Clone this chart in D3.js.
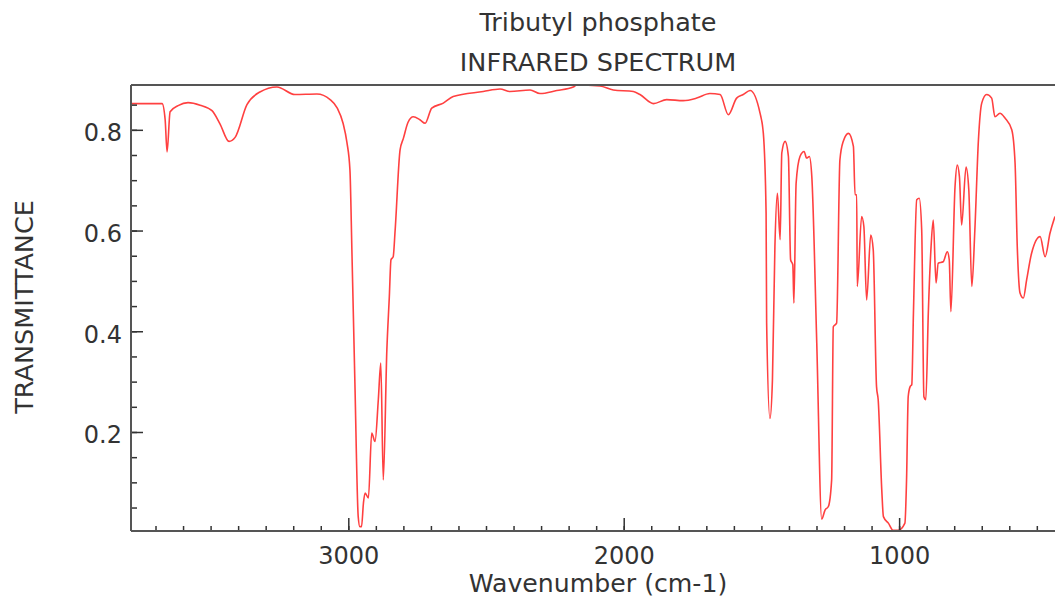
<!DOCTYPE html>
<html lang="en">
<head>
    <meta charset="UTF-8">
    <title>Tributyl phosphate IR spectrum</title>
    <script src="https://d3js.org/d3.v7.min.js"></script>
    <style>
        body { margin: 0; background: #fff; }
        text { font-family: "DejaVu Sans", sans-serif; fill: #333; }
        .spectrum { fill: none; stroke: #ff4040; stroke-width: 1.6px; stroke-linejoin: round; }
        .frame { stroke: #555; stroke-width: 2px; }
        .tick line { stroke: #333; stroke-width: 1.5px; }
        .domain { display: none; }
    </style>
</head>
<body>
    <svg width="1055" height="598"></svg>
    <script>
        // wavenumber (cm-1) and transmittance
        const wavenumber = [3789, 3676, 3665, 3658, 3647, 3618, 3582, 3538, 3495, 3466, 3433, 3411, 3368, 3321, 3259, 3194,
            3114, 3066, 3040, 3019, 3005, 2994, 2987, 2976, 2964, 2958, 2952, 2945, 2939, 2927, 2915, 2903, 2891, 2882, 2873,
            2860, 2851, 2845, 2837, 2830, 2812, 2800, 2783, 2764, 2740, 2721, 2697, 2655, 2619, 2510, 2449, 2413,
            2340, 2304, 2243, 2183, 2171, 2086, 2038, 1965, 1941, 1892, 1844, 1784, 1735, 1687, 1650, 1620, 1590,
            1566, 1541, 1505, 1493, 1483, 1481, 1469, 1460, 1451, 1442, 1432, 1426, 1414, 1402, 1394, 1386, 1382,
            1374, 1360, 1345, 1336, 1326, 1317, 1299, 1281, 1269, 1257, 1245, 1239, 1227, 1215, 1203, 1184, 1166,
            1160, 1154, 1152, 1136, 1128, 1118, 1103, 1094, 1082, 1076, 1063, 1057, 1039, 1022, 1003, 979, 973,
            967, 960, 954, 948, 936, 927, 918, 910, 903, 894, 884, 876, 866, 858, 840, 825, 818, 812, 797, 789,
            781, 773, 757, 747, 736, 725, 712, 700, 682, 664, 652, 634, 615, 591, 579, 571, 561, 549, 537, 519,
            488, 470, 452, 434];
        const transmittance = [0.852, 0.852, 0.82, 0.756, 0.836, 0.848, 0.854, 0.849, 0.838, 0.812, 0.777, 0.785, 0.85, 0.875, 0.885, 0.870,
            0.871, 0.86, 0.843, 0.813, 0.775, 0.72, 0.562, 0.297, 0.032, 0.012, 0.012, 0.059, 0.079, 0.069, 0.198, 0.181, 0.264, 0.337, 0.105,
            0.363, 0.469, 0.542, 0.548, 0.60, 0.76, 0.783, 0.815, 0.826, 0.82, 0.813, 0.843, 0.853, 0.866, 0.876, 0.881, 0.876,
            0.879, 0.872, 0.878, 0.885, 0.889, 0.887, 0.879, 0.876, 0.870, 0.852, 0.860, 0.858, 0.863, 0.872, 0.870, 0.830, 0.863,
            0.870, 0.878, 0.833, 0.793, 0.635, 0.416, 0.227, 0.303, 0.568, 0.674, 0.582, 0.754, 0.777, 0.747, 0.542, 0.532, 0.456,
            0.694, 0.747, 0.757, 0.744, 0.747, 0.707, 0.376, 0.027, 0.045, 0.052, 0.105, 0.409, 0.416, 0.740, 0.777, 0.793, 0.767,
            0.671, 0.671, 0.489, 0.628, 0.608, 0.462, 0.591, 0.562, 0.290, 0.264, 0.085, 0.032, 0.019, 0.005, 0.005, 0.019, 0.105,
            0.270, 0.290, 0.294, 0.436, 0.661, 0.664, 0.601, 0.270, 0.264, 0.436, 0.568, 0.621, 0.496, 0.535, 0.538, 0.558, 0.542, 0.439, 0.687, 0.730,
            0.707, 0.611, 0.726, 0.681, 0.489, 0.601, 0.780, 0.853, 0.870, 0.863, 0.826, 0.833, 0.823, 0.80, 0.734, 0.568, 0.476, 0.466, 0.502, 0.555,
            0.588, 0.548, 0.595, 0.628];

        const xMajorTicks = [3000, 2000, 1000];
        const yMajorTicks = [0.2, 0.4, 0.6, 0.8];

        const plotLeft = 131, plotRight = 1055, plotTop = 85, plotBottom = 531;
        const svg = d3.select("svg");

        const x = d3.scaleLinear().domain([3789, 434]).range([plotLeft, plotRight]);
        const y = d3.scaleLinear().domain([0.0034, 0.889]).range([plotBottom, plotTop]);

        const data = wavenumber.map((w, i) => ({ w: w, t: transmittance[i] }));

        svg.append("defs").append("clipPath").attr("id", "plot")
            .append("rect").attr("x", plotLeft).attr("y", plotTop - 2)
            .attr("width", plotRight - plotLeft).attr("height", plotBottom - plotTop + 2);

        svg.append("path")
            .datum(data)
            .attr("class", "spectrum")
            .attr("clip-path", "url(#plot)")
            .attr("d", d3.line().curve(d3.curveMonotoneX).x(d => x(d.w)).y(d => y(d.t)));

        // minor ticks
        svg.append("g")
            .attr("transform", `translate(0,${plotBottom})`)
            .call(d3.axisBottom(x).tickValues(d3.range(3700, 434, -100)).tickSize(-5).tickFormat(""));
        svg.append("g")
            .attr("transform", `translate(${plotLeft},0)`)
            .call(d3.axisLeft(y).tickValues(d3.range(0.05, 0.88, 0.05)).tickSize(-6).tickFormat(""));

        // major ticks with labels
        const xAxis = svg.append("g")
            .attr("transform", `translate(0,${plotBottom})`)
            .call(d3.axisBottom(x).tickValues(xMajorTicks).tickSize(-13).tickPadding(16).tickFormat(d3.format("d")));
        xAxis.selectAll("text").style("font-size", "24px");

        const yAxis = svg.append("g")
            .attr("transform", `translate(${plotLeft},0)`)
            .call(d3.axisLeft(y).tickValues(yMajorTicks).tickSize(-12).tickPadding(9).tickFormat(d3.format(".1f")));
        yAxis.selectAll("text").style("font-size", "24px").attr("dy", "0.45em");

        // frame
        svg.append("line").attr("class", "frame").attr("x1", plotLeft).attr("x2", plotRight).attr("y1", plotTop).attr("y2", plotTop);
        svg.append("line").attr("class", "frame").attr("x1", plotLeft).attr("x2", plotRight).attr("y1", plotBottom).attr("y2", plotBottom);
        svg.append("line").attr("class", "frame").attr("x1", plotLeft).attr("x2", plotLeft).attr("y1", plotTop).attr("y2", plotBottom);

        // titles
        svg.append("text").attr("x", 598).attr("y", 31).attr("text-anchor", "middle")
            .style("font-size", "25.5px").text("Tributyl phosphate");
        svg.append("text").attr("x", 598).attr("y", 71).attr("text-anchor", "middle")
            .style("font-size", "25.5px").text("INFRARED SPECTRUM");
        svg.append("text").attr("x", 598).attr("y", 592).attr("text-anchor", "middle")
            .style("font-size", "25.2px").text("Wavenumber (cm-1)");
        svg.append("text").attr("transform", "translate(33,307) rotate(-90)").attr("text-anchor", "middle")
            .style("font-size", "25.5px").text("TRANSMITTANCE");
    </script>
</body>
</html>
